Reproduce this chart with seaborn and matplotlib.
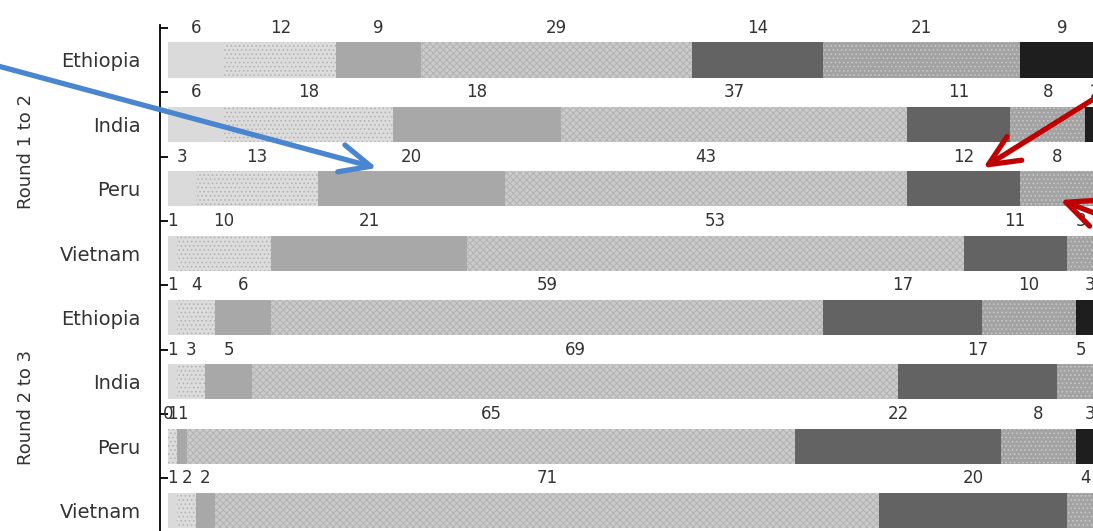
import matplotlib
matplotlib.use("Agg")
import matplotlib.pyplot as plt
import seaborn as sns
import pandas as pd
import numpy as np

# ---------------- data ----------------
countries = ["Ethiopia", "India", "Peru", "Vietnam"]
rounds = ["Round 1 to 2", "Round 2 to 3"]
categories = ["Category 1", "Category 2", "Category 3", "Category 4",
              "Category 5", "Category 6", "Category 7"]
# one value per row: R1-2 Ethiopia, India, Peru, Vietnam, R2-3 Ethiopia, India, Peru, Vietnam
cat1 = [6, 6, 3, 1, 1, 1, 0, 1]
cat2 = [12, 18, 13, 10, 4, 3, 1, 2]
cat3 = [9, 18, 20, 21, 6, 5, 1, 2]
cat4 = [29, 37, 43, 53, 59, 69, 65, 71]
cat5 = [14, 11, 12, 11, 17, 17, 22, 20]
cat6 = [21, 8, 8, 3, 10, 5, 8, 4]
cat7 = [9, 2, 1, 1, 3, 0, 3, 0]

# ---------------- styles ----------------
faces = ["#dadada", "#dcdcdc", "#a8a8a8", "#cbcbcb", "#636363", "#a3a3a3", "#1e1e1e"]
hatches = [None, "....", None, "xxxxx", None, "....", None]
hcols = ["#dadada", "#b4b4b4", "#a8a8a8", "#b2b2b2", "#636363", "#c6c6c6", "#1e1e1e"]

sns.set_style("white")
plt.rcParams["font.family"] = ["DejaVu Sans"]
plt.rcParams["hatch.linewidth"] = 0.7

W, H = 1093, 531
fig = plt.figure(figsize=(W / 100, H / 100), dpi=100)
top_px, bot_px = 24.6, 542.7
ax = fig.add_axes([160 / W, (H - bot_px) / H, 944 / W, (bot_px - top_px) / H])

rows = [f"{r}|{c}" for r in rounds for c in countries]
vals = np.array([cat1, cat2, cat3, cat4, cat5, cat6, cat7]).T  # rows x cats
cum = vals.cumsum(axis=1)

for k in reversed(range(len(categories))):
    d = pd.DataFrame({"row": rows, "end": cum[:, k]})
    n0 = len(ax.patches)
    sns.barplot(data=d, x="end", y="row", order=rows, orient="h",
                color=faces[k], saturation=1, width=0.545, errorbar=None,
                ax=ax, linewidth=0)
    for p in ax.patches[n0:]:
        p.set_facecolor(faces[k])
        p.set_edgecolor(hcols[k])
        p.set_linewidth(0)
        if hatches[k]:
            p.set_hatch(hatches[k])

# value labels above each segment
for i in range(len(rows)):
    for k in range(len(categories)):
        v = vals[i, k]
        cx = cum[i, k] - v / 2
        ax.text(cx, i - 0.5, str(v), ha="center", va="center",
                fontsize=12, color="#333333")

ax.set_xlim(-0.85, 100)
ax.set_ylim(7.5, -0.55)
ax.set_xlabel("")
ax.set_ylabel("")
ax.set_xticks([])
ax.set_yticks(range(len(rows)))
ax.set_yticklabels(countries * 2, fontsize=14, color="#333333")
ax.tick_params(axis="y", which="major", length=0, pad=14)
ax.set_yticks(np.arange(-0.5, len(rows) + 0.5, 1), minor=True)
ax.tick_params(axis="y", which="minor", direction="in", length=5.5,
               width=1.3, left=True, color="black")
for s in ["top", "right", "bottom"]:
    ax.spines[s].set_visible(False)
ax.spines["left"].set_color("black")
ax.spines["left"].set_linewidth(1.3)

fig.text(26 / W, 1 - 151.5 / H, rounds[0], rotation=90, ha="center",
         va="center", fontsize=13, color="#333333")
fig.text(26 / W, 1 - 407 / H, rounds[1], rotation=90, ha="center",
         va="center", fontsize=13, color="#333333")

# annotation arrows (figure pixels, origin bottom-left)
def arrow(start, tip, color):
    ax.annotate("", xy=(tip[0], H - tip[1]), xytext=(start[0], H - start[1]),
                xycoords="figure pixels", textcoords="figure pixels",
                annotation_clip=False,
                arrowprops=dict(arrowstyle="->,head_length=1.1,head_width=0.5",
                                color=color, lw=3.8, mutation_scale=20,
                                shrinkA=0, shrinkB=0, capstyle="round",
                                joinstyle="round"))

arrow((-2, 66), (377, 168), "#4a86d0")
arrow((1100, 95), (983, 168), "#c00000")
arrow((1118, 222), (1060, 200), "#c00000")

fig.savefig("out.png", dpi=100)
